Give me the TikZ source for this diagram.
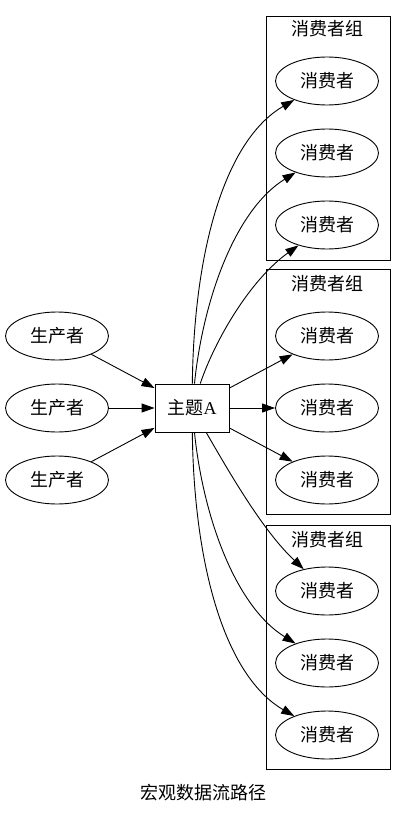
\documentclass[tikz,border=0pt]{standalone}
\usepackage{fontspec}
\setmainfont{Liberation Serif}
\newfontfamily\cjk{Noto Sans CJK SC}
\usetikzlibrary{arrows.meta,shapes.geometric}
\begin{document}
\begin{tikzpicture}[x=1pt,y=-1pt,
  every node/.style={font=\fontsize{18}{20}\selectfont\cjk},
  oval/.style={draw,ellipse,line width=0.9pt,minimum width=103pt,minimum height=48pt,inner sep=0pt},
  topicbox/.style={draw,rectangle,line width=0.9pt,minimum width=74pt,minimum height=48pt,inner sep=0pt},
  cluster/.style={draw,line width=0.9pt},
  flow/.style={line width=0.9pt,-{Triangle[length=13pt,width=9pt]}}]
\useasboundingbox (0,0) rectangle (406,816);
% clusters
\draw[cluster] (266,16) rectangle (390,260);
\draw[cluster] (266,269) rectangle (390,514);
\draw[cluster] (266,525) rectangle (390,769);
\node (g1) at (327,29) {消费者组};
\node (g2) at (327,284) {消费者组};
\node (g3) at (327,540) {消费者组};
% consumers
\node[oval] (c1) at (327,81) {消费者};
\node[oval] (c2) at (327,153) {消费者};
\node[oval] (c3) at (327,225) {消费者};
\node[oval] (c4) at (327,336) {消费者};
\node[oval] (c5) at (327,408) {消费者};
\node[oval] (c6) at (327,480) {消费者};
\node[oval] (c7) at (327,591) {消费者};
\node[oval] (c8) at (327,663) {消费者};
\node[oval] (c9) at (327,735) {消费者};
% producers
\node[oval] (p1) at (57,336) {生产者};
\node[oval] (p2) at (57,408) {生产者};
\node[oval] (p3) at (57,480) {生产者};
% topic
\node[topicbox] (t) at (192,408) {主题{\fontspec{Liberation Serif}A}};
% producer edges
\draw[flow] (p1) -- (t);
\draw[flow] (p2) -- (t);
\draw[flow] (p3) -- (t);
% consumer edges
\draw[flow] (t) .. controls (194,250) and (225,140) .. (c1);
\draw[flow] (t) .. controls (203,300) and (235,210) .. (c2);
\draw[flow] (t) .. controls (215,340) and (250,280) .. (c3);
\draw[flow] (t) -- (c4);
\draw[flow] (t) -- (c5);
\draw[flow] (t) -- (c6);
\draw[flow] (t) .. controls (228,470) and (262,530) .. (c7);
\draw[flow] (t) .. controls (203,516) and (235,606) .. (c8);
\draw[flow] (t) .. controls (194,566) and (225,676) .. (c9);
% title
\node (title) at (203,793) {宏观数据流路径};
\end{tikzpicture}
\end{document}
